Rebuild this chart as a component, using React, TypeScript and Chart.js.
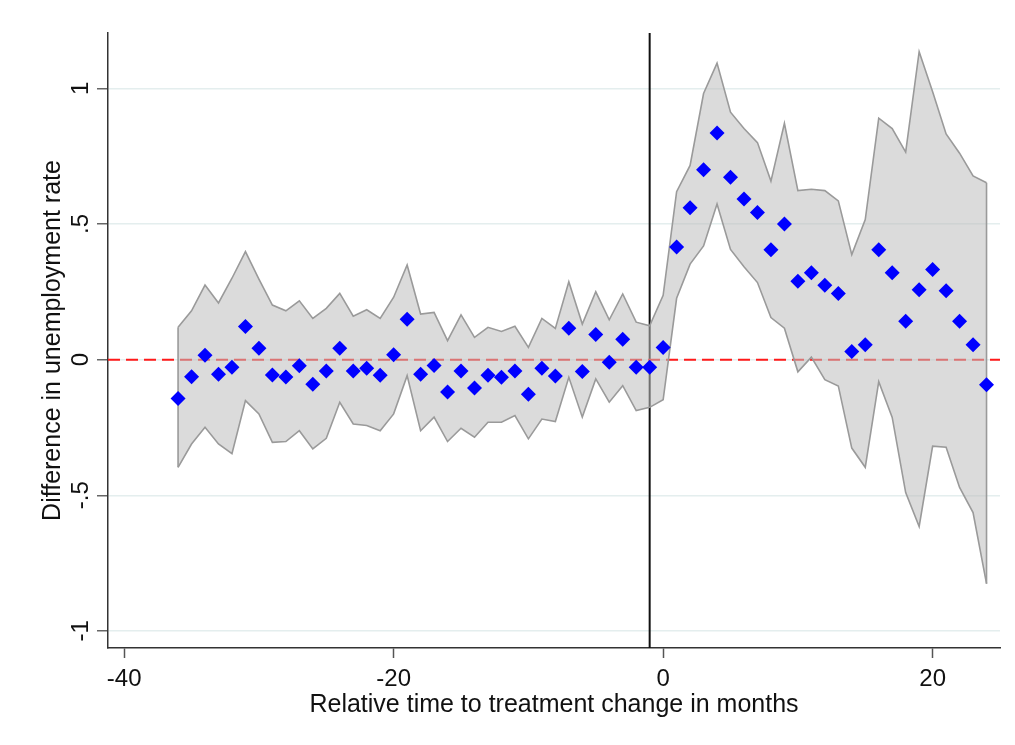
import React, { useEffect, useRef } from "react";
import { Chart, registerables } from "chart.js";

Chart.register(...registerables);

// Relative time (months)
const months = [
  -36, -35, -34, -33, -32, -31, -30, -29, -28, -27, -26, -25, -24, -23, -22, -21, -20,
  -19, -18, -17, -16, -15, -14, -13, -12, -11, -10, -9, -8, -7, -6, -5, -4, -3, -2, -1,
  0, 1, 2, 3, 4, 5, 6, 7, 8, 9, 10, 11, 12, 13, 14, 15, 16, 17, 18, 19, 20, 21, 22, 23, 24,
];

// Point estimates
const estimates = [
  -0.143, -0.063, 0.016, -0.054, -0.028, 0.122, 0.042, -0.057, -0.064, -0.023, -0.091, -0.042,
  0.042, -0.042, -0.032, -0.058, 0.018, 0.149, -0.054, -0.022, -0.119, -0.042, -0.105, -0.058,
  -0.065, -0.042, -0.128, -0.032, -0.06, 0.116, -0.044, 0.093, -0.01, 0.075, -0.028, -0.028,
  0.045, 0.415, 0.56, 0.7, 0.835, 0.672, 0.592, 0.542, 0.405, 0.5, 0.289, 0.32, 0.274, 0.244,
  0.03, 0.055, 0.405, 0.32, 0.141, 0.258, 0.332, 0.254, 0.141, 0.055, -0.093,
];

// Upper confidence bound
const upperCI = [
  0.119, 0.18, 0.275, 0.209, 0.3, 0.398, 0.297, 0.201, 0.18, 0.217, 0.152, 0.189, 0.244, 0.16,
  0.184, 0.152, 0.23, 0.349, 0.168, 0.174, 0.07, 0.165, 0.082, 0.119, 0.104, 0.123, 0.045, 0.152,
  0.115, 0.287, 0.131, 0.25, 0.147, 0.242, 0.138, 0.125, 0.237, 0.619, 0.716, 0.981, 1.093, 0.912,
  0.852, 0.8, 0.658, 0.871, 0.623, 0.628, 0.623, 0.585, 0.387, 0.516, 0.89, 0.852, 0.765, 1.135,
  0.987, 0.832, 0.761, 0.677, 0.652,
];

// Lower confidence bound
const lowerCI = [
  -0.397, -0.311, -0.249, -0.311, -0.347, -0.151, -0.2, -0.305, -0.302, -0.262, -0.329, -0.29,
  -0.157, -0.237, -0.243, -0.262, -0.2, -0.059, -0.262, -0.212, -0.302, -0.253, -0.286, -0.231,
  -0.231, -0.206, -0.292, -0.219, -0.228, -0.065, -0.212, -0.071, -0.157, -0.096, -0.188, -0.176,
  -0.148, 0.226, 0.352, 0.419, 0.574, 0.406, 0.342, 0.284, 0.155, 0.116, -0.045, 0.009, -0.074,
  -0.097, -0.326, -0.397, -0.081, -0.213, -0.49, -0.615, -0.319, -0.323, -0.471, -0.564, -0.826,
];

const xTicks = [-40, -20, 0, 20];
const yTicks = [-1, -0.5, 0, 0.5, 1];
const yTickLabels = ["-1", "-.5", "0", ".5", "1"];
const treatmentLine = -1;
const xRange = [-41.2, 25];
const yRange = [-1.063, 1.204];

const xTitle = "Relative time to treatment change in months";
const yTitle = "Difference in unemployment rate";

const FONT = '"Liberation Sans", Arial, sans-serif';

export default function App() {
  const ref = useRef<HTMLCanvasElement | null>(null);

  useEffect(() => {
    if (!ref.current) return;
    const textPlugin = {
      id: "axisText",
      afterDraw(chart: any) {
        const ctx = chart.ctx;
        const ys = chart.scales.y;
        const area = chart.chartArea;
        ctx.save();
        ctx.fillStyle = "#111";
        ctx.font = `24px ${FONT}`;
        ctx.textAlign = "center";
        ctx.textBaseline = "middle";
        yTicks.forEach((v, i) => {
          const py = ys.getPixelForValue(v);
          ctx.save();
          ctx.translate(81, py);
          ctx.rotate(-Math.PI / 2);
          ctx.fillText(yTickLabels[i], 0, 0);
          ctx.restore();
        });
        ctx.font = `25px ${FONT}`;
        ctx.save();
        ctx.translate(53, (area.top + area.bottom) / 2);
        ctx.rotate(-Math.PI / 2);
        ctx.fillText(yTitle, 0, 0);
        ctx.restore();
        ctx.fillText(xTitle, (area.left + area.right) / 2, 705);
        ctx.restore();
      },
    };

    const pts = (ys: number[]) => months.map((m, i) => ({ x: m, y: ys[i] }));

    const chart = new Chart(ref.current, {
      type: "line",
      data: {
        datasets: [
          {
            label: "estimate",
            data: pts(estimates),
            showLine: false,
            pointStyle: "rectRot",
            pointRadius: 7.5,
            pointBackgroundColor: "#0000ff",
            pointBorderWidth: 0,
            borderColor: "#0000ff",
            order: 0,
          },
          {
            label: "upper",
            data: pts(upperCI),
            borderColor: "#9a9a9a",
            borderWidth: 1.6,
            pointRadius: 0,
            fill: "+1",
            backgroundColor: "rgba(190,190,190,0.55)",
            tension: 0,
            order: 5,
          },
          {
            label: "lower",
            data: pts(lowerCI),
            borderColor: "#9a9a9a",
            borderWidth: 1.6,
            pointRadius: 0,
            fill: false,
            tension: 0,
            order: 4,
          },
          {
            label: "leftEdge",
            data: [
              { x: months[0], y: upperCI[0] },
              { x: months[0], y: lowerCI[0] },
            ],
            borderColor: "#9a9a9a",
            borderWidth: 1.6,
            pointRadius: 0,
            fill: false,
            order: 3,
          },
          {
            label: "rightEdge",
            data: [
              { x: months[months.length - 1], y: upperCI[upperCI.length - 1] },
              { x: months[months.length - 1], y: lowerCI[lowerCI.length - 1] },
            ],
            borderColor: "#9a9a9a",
            borderWidth: 1.6,
            pointRadius: 0,
            fill: false,
            order: 3,
          },
          {
            label: "zero",
            data: [
              { x: xRange[0], y: 0 },
              { x: xRange[1], y: 0 },
            ],
            borderColor: "#ff1a1a",
            borderWidth: 2,
            borderDash: [12, 6],
            pointRadius: 0,
            fill: false,
            order: 9,
          },
          {
            label: "treatment",
            data: [
              { x: treatmentLine, y: yRange[0] },
              { x: treatmentLine, y: yRange[1] },
            ],
            borderColor: "#111",
            borderWidth: 2,
            pointRadius: 0,
            fill: false,
            order: 10,
          },
        ],
      },
      options: {
        animation: false,
        responsive: true,
        maintainAspectRatio: false,
        devicePixelRatio: 1,
        layout: { padding: { top: 33, right: 15, left: 0, bottom: 0 } },
        plugins: { legend: { display: false }, tooltip: { enabled: false } },
        scales: {
          x: {
            type: "linear",
            min: xRange[0],
            max: xRange[1],
            afterBuildTicks: (s: any) => {
              s.ticks = xTicks.map((v) => ({ value: v }));
            },
            afterFit: (s: any) => {
              s.height = 97;
            },
            grid: {
              drawOnChartArea: false,
              drawTicks: true,
              tickLength: 10,
              tickColor: "#555",
              tickWidth: 1.5,
            },
            border: { display: true, color: "#333", width: 1.5 },
            ticks: {
              font: { size: 24, family: FONT },
              color: "#111",
              padding: 7,
              maxRotation: 0,
              callback: (v: any) => String(v),
            },
          },
          y: {
            type: "linear",
            min: yRange[0],
            max: yRange[1],
            afterBuildTicks: (s: any) => {
              s.ticks = yTicks.map((v) => ({ value: v }));
            },
            afterFit: (s: any) => {
              s.width = 108;
            },
            grid: {
              color: "#e4eeee",
              lineWidth: 1.5,
              drawTicks: true,
              tickLength: 11,
              tickColor: "#666",
              tickWidth: 1.5,
            },
            border: { display: true, color: "#333", width: 1.5 },
            ticks: { display: false },
          },
        },
      },
      plugins: [textPlugin],
    });
    return () => chart.destroy();
  }, []);

  return (
    <div
      style={{
        position: "fixed",
        left: 0,
        top: 0,
        width: 1015,
        height: 745,
        background: "#fff",
      }}
    >
      <canvas ref={ref} />
    </div>
  );
}
